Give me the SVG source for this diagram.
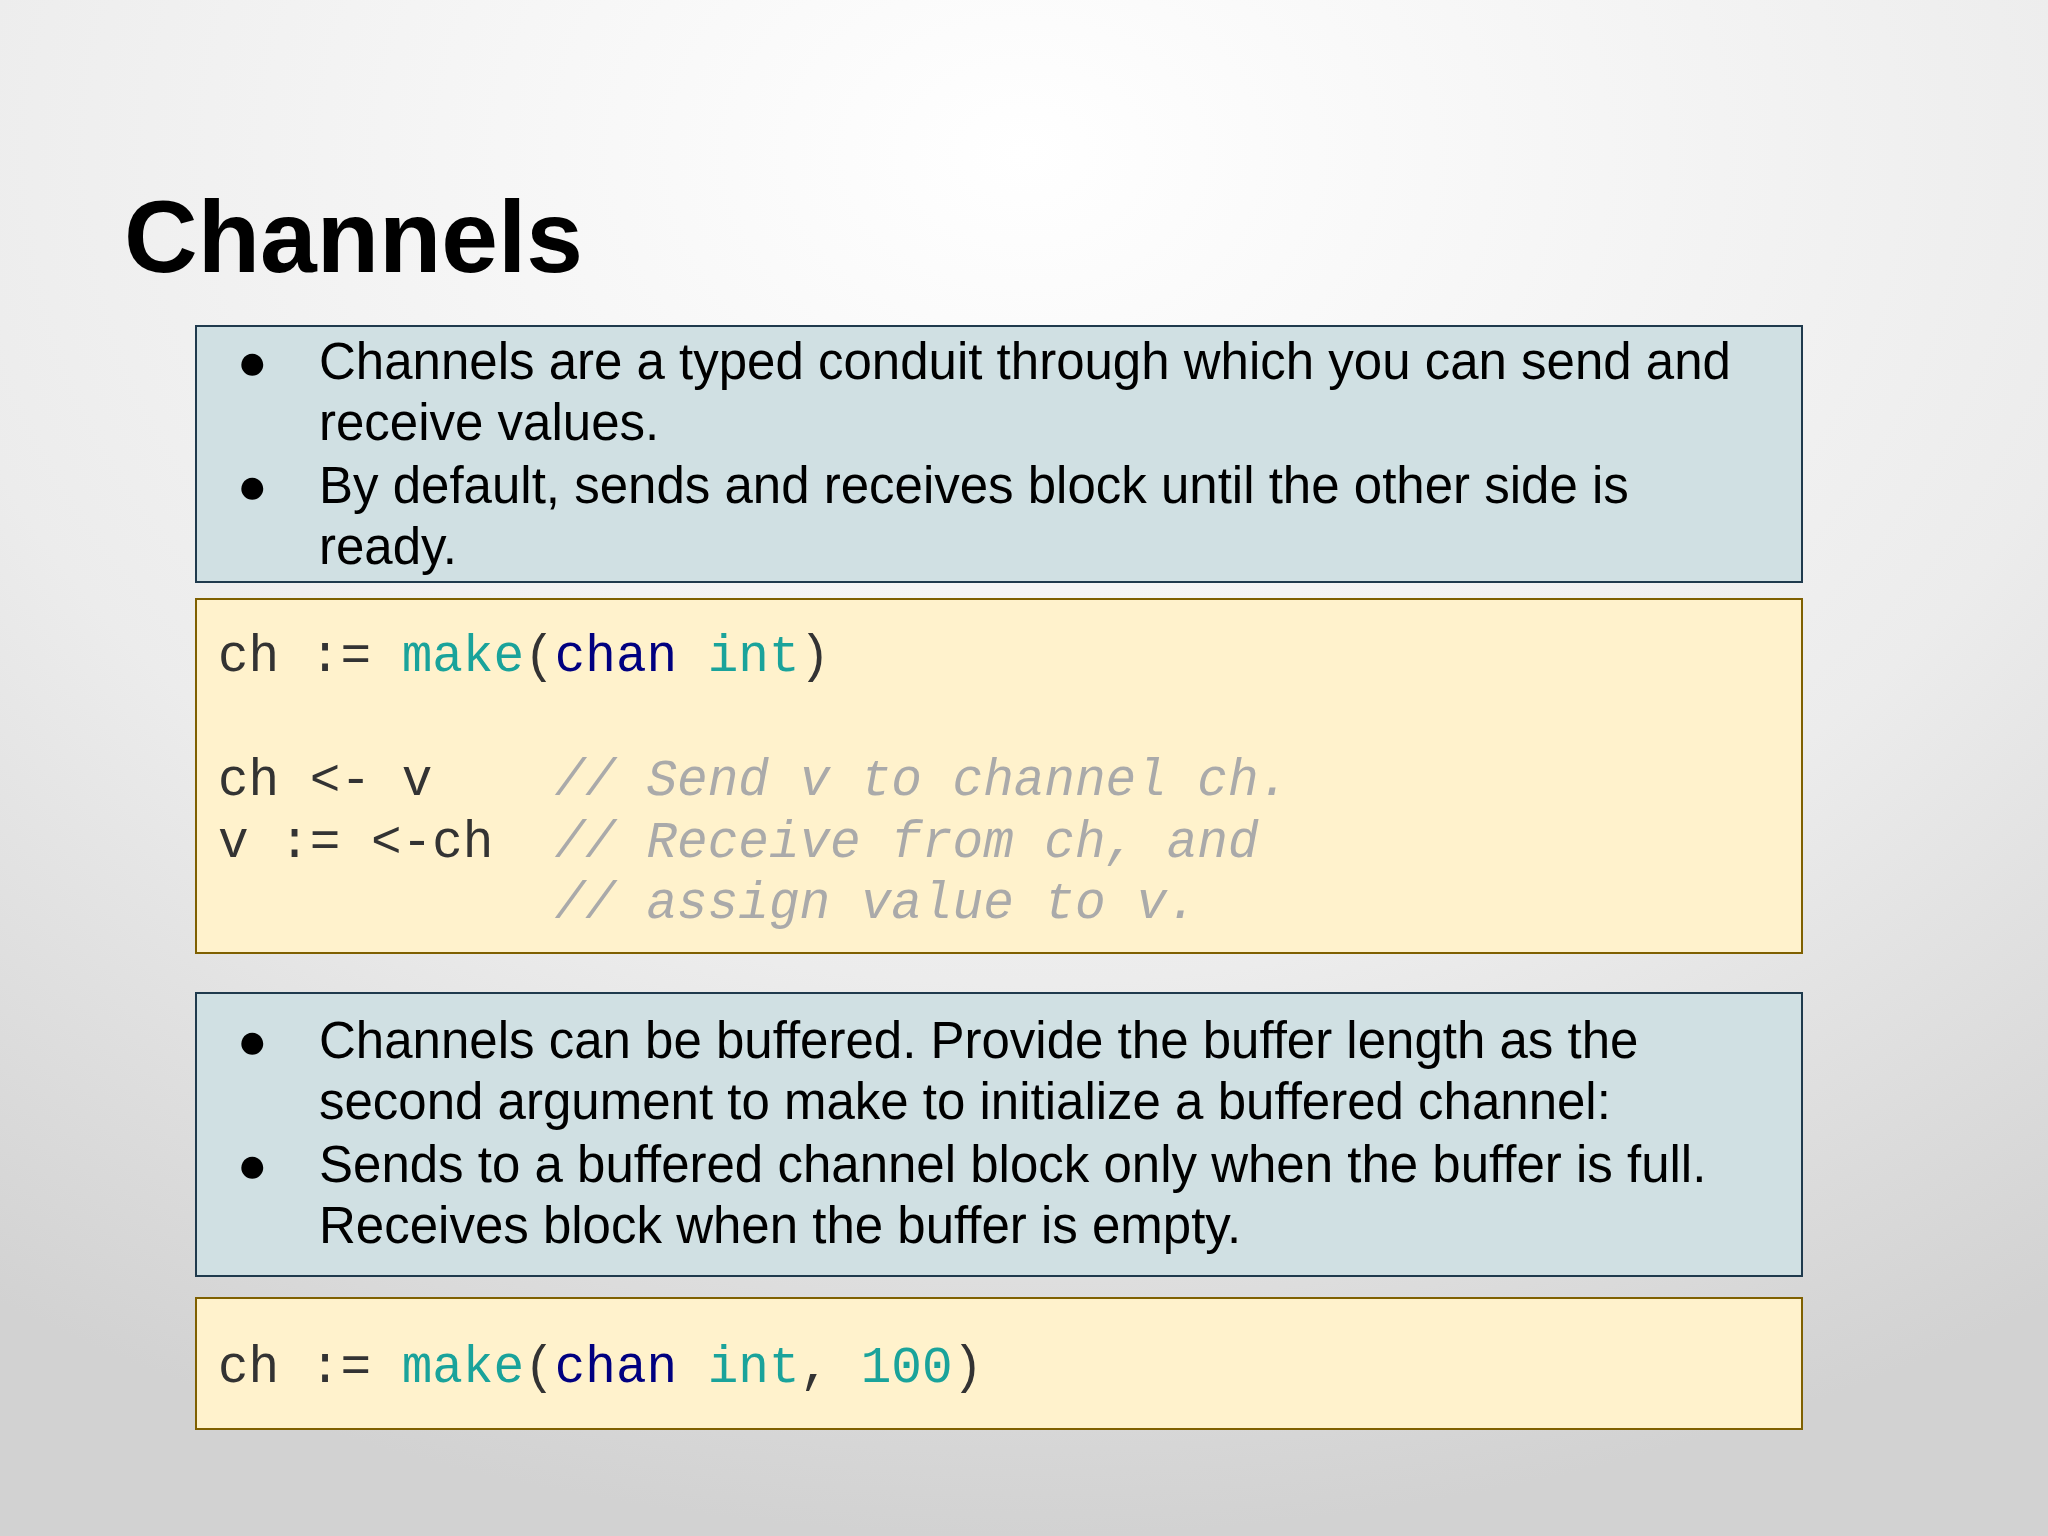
<svg xmlns="http://www.w3.org/2000/svg" width="2048" height="1536" viewBox="0 0 2048 1536">
<defs>
<radialGradient id="bg" cx="0.5" cy="0.1" r="0.9">
<stop offset="0" stop-color="#ffffff"/><stop offset="0.6" stop-color="#ececec"/><stop offset="1" stop-color="#d2d2d2"/>
</radialGradient>
<style>
.blue{fill:#d0e0e3;stroke:#1f3a4d;stroke-width:2}
.yel{fill:#fff2cc;stroke:#7f6000;stroke-width:2}
.t{font-family:"Liberation Sans",Arial,sans-serif;font-size:51px;fill:#000}
.c{font-family:"Liberation Mono","Courier New",monospace;font-size:51px;fill:#333;white-space:pre}
.k{fill:#1aa39b}.n{fill:#000080}.cm{fill:#aaaaaa;font-style:italic}
</style>
</defs>
<rect width="2048" height="1536" fill="url(#bg)"/>
<text x="124" y="272" font-family="Liberation Sans,Arial,sans-serif" font-weight="bold" font-size="102" fill="#000">Channels</text>
<g id="box1">
<rect class="blue" x="196" y="326" width="1606" height="256"/>
<text class="t" x="237" y="379">●</text><text class="t" x="319" y="379">Channels are a typed conduit through which you can send and</text>
<text class="t" x="319" y="440">receive values.</text>
<text class="t" x="237" y="503">●</text><text class="t" x="319" y="503">By default, sends and receives block until the other side is</text>
<text class="t" x="319" y="564">ready.</text>
</g>
<g id="code1">
<rect class="yel" x="196" y="599" width="1606" height="354"/>
<text class="c" x="218" y="671">ch := <tspan class="k">make</tspan>(<tspan class="n">chan</tspan> <tspan class="k">int</tspan>)</text>
<text class="c" x="218" y="795">ch &lt;- v    <tspan class="cm">// Send v to channel ch.</tspan></text>
<text class="c" x="218" y="857">v := &lt;-ch  <tspan class="cm">// Receive from ch, and</tspan></text>
<text class="c" x="218" y="918">           <tspan class="cm">// assign value to v.</tspan></text>
</g>
<g id="box2">
<rect class="blue" x="196" y="993" width="1606" height="283"/>
<text class="t" x="237" y="1058">●</text><text class="t" x="319" y="1058">Channels can be buffered. Provide the buffer length as the</text>
<text class="t" x="319" y="1119">second argument to make to initialize a buffered channel:</text>
<text class="t" x="237" y="1182">●</text><text class="t" x="319" y="1182">Sends to a buffered channel block only when the buffer is full.</text>
<text class="t" x="319" y="1243">Receives block when the buffer is empty.</text>
</g>
<g id="code2">
<rect class="yel" x="196" y="1298" width="1606" height="131"/>
<text class="c" x="218" y="1382">ch := <tspan class="k">make</tspan>(<tspan class="n">chan</tspan> <tspan class="k">int</tspan>, <tspan class="k">100</tspan>)</text>
</g>
<g id="connectors"/>
</svg>
